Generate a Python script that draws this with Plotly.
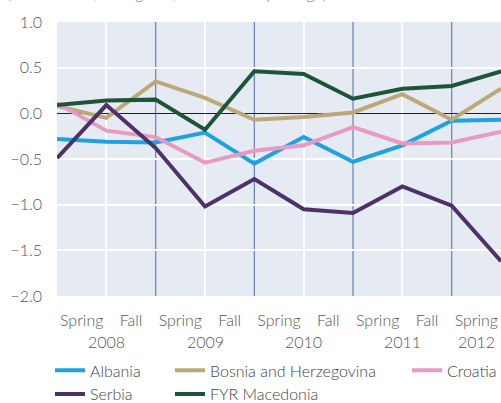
import plotly.graph_objects as go

periods = ["Spring 2008", "Fall 2008", "Spring 2009", "Fall 2009", "Spring 2010",
           "Fall 2010", "Spring 2011", "Fall 2011", "Spring 2012", "Fall 2012"]
x_idx = list(range(len(periods)))

albania = [-0.28, -0.31, -0.32, -0.21, -0.55, -0.26, -0.53, -0.35, -0.08, -0.07]
bosnia = [0.08, -0.05, 0.35, 0.17, -0.07, -0.04, 0.01, 0.21, -0.07, 0.27]
croatia = [0.11, -0.19, -0.26, -0.54, -0.41, -0.35, -0.15, -0.33, -0.32, -0.20]
serbia = [-0.49, 0.09, -0.38, -1.02, -0.72, -1.05, -1.09, -0.80, -1.01, -1.62]
macedonia = [0.09, 0.14, 0.15, -0.18, 0.46, 0.43, 0.16, 0.27, 0.30, 0.46]

season_ticks = [0.5, 1.5, 2.5, 3.5, 4.5, 5.5, 6.5, 7.5, 8.5]
season_labels = ["Spring", "Fall", "Spring", "Fall", "Spring", "Fall", "Spring", "Fall", "Spring"]
year_pos = [1, 3, 5, 7, 8.5]
year_labels = ["2008", "2009", "2010", "2011", "2012"]
year_bounds = [2, 4, 6, 8]

FONT = "Lato"
GREY = "#555555"

series = [
    ("Albania", albania, "#1fa2e3", "legend"),
    ("Bosnia and Herzegovina", bosnia, "#bba977", "legend2"),
    ("Croatia", croatia, "#e99ac1", "legend3"),
    ("Serbia", serbia, "#4c3268", "legend"),
    ("FYR Macedonia", macedonia, "#1e5438", "legend2"),
]

fig = go.Figure()
for name, vals, color, lg in series:
    fig.add_trace(go.Scatter(x=x_idx, y=vals, mode="lines", name=name,
                             line=dict(color=color, width=4), legend=lg))

for xb in year_bounds:
    fig.add_shape(type="line", xref="x", yref="paper", x0=xb, x1=xb, y0=0, y1=1,
                  line=dict(color="#6382b8", width=1.2), layer="below")

ML, MT, MR = 57, 22, 0
PB = 295.7
MB = 403 - PB
PH = PB - MT
PW = 501 - ML - MR


def py(p):
    return (PB - p) / PH


def px(p):
    return (p - ML) / PW


for xp, yl in zip(year_pos, year_labels):
    fig.add_annotation(x=xp, xref="x", y=py(341), yref="paper", text=yl, showarrow=False,
                       font=dict(family=FONT, size=16, color=GREY, weight=300),
                       xanchor="center", yanchor="middle")

fig.add_annotation(x=px(5), xref="paper", y=py(4), yref="paper", xanchor="left", yanchor="bottom",
                   text="(Net balance, in degrees, relative to a year ago)", showarrow=False,
                   font=dict(family=FONT, size=16, color="#777777", weight=300))

legend_common = dict(orientation="v", xanchor="left", yanchor="top",
                     font=dict(family=FONT, size=16, color="#444444", weight=300),
                     bgcolor="rgba(0,0,0,0)", tracegroupgap=0, itemwidth=30)

LEG_Y = py(353)

fig.update_layout(
    width=501, height=403,
    margin=dict(l=ML, r=MR, t=MT, b=MB, autoexpand=False),
    paper_bgcolor="white", plot_bgcolor="#e6ebf3",
    font=dict(family=FONT, size=16, color=GREY, weight=300),
    showlegend=True,
    legend=dict(x=px(50), y=LEG_Y, **legend_common),
    legend2=dict(x=px(170), y=LEG_Y, **legend_common),
    legend3=dict(x=px(407), y=LEG_Y, **legend_common),
    xaxis=dict(range=[0, 9], tickvals=season_ticks, ticktext=season_labels, showgrid=False,
               zeroline=False, ticks="", ticklabelstandoff=13, automargin=False,
               tickfont=dict(family=FONT, size=16, color=GREY, weight=300),
               minor=dict(tickvals=[1, 3, 5, 7, 9], showgrid=True, gridcolor="white", gridwidth=1.5)),
    yaxis=dict(range=[-2, 1], dtick=0.5, tickformat=".1f", showgrid=True, gridcolor="white", gridwidth=1.5,
               zeroline=True, zerolinecolor="#222222", zerolinewidth=1.2, ticks="", ticklabelstandoff=14,
               automargin=False, tickfont=dict(family=FONT, size=16, color=GREY, weight=300)),
)

fig.write_html("out.html", config={"displayModeBar": False},
               post_script="document.body.style.margin='0';document.body.style.overflow='hidden';")
